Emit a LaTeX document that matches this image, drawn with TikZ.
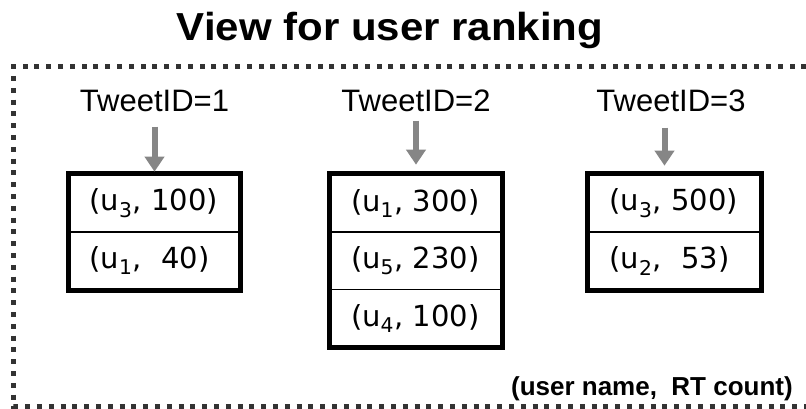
\documentclass[tikz,border=0pt]{standalone}
\usepackage{fontspec}
\setmainfont{Liberation Sans}
\newfontfamily\cellfont{DejaVu Sans}
\usetikzlibrary{arrows.meta}

\tikzset{
  title/.style={font=\fontsize{42}{48}\selectfont\bfseries, anchor=base, inner sep=0pt},
  idlabel/.style={font=\fontsize{31}{34}\selectfont, anchor=base, inner sep=0pt},
  cell/.style={draw=black, line width=1.6pt, minimum height=57.5pt, inner sep=0pt,
               font=\cellfont\fontsize{29}{32}\selectfont, text width=130pt, align=left},
  frame/.style={draw=black, line width=5pt},
  feed/.style={draw=gray!95, line width=6pt, -{Triangle[width=19pt,length=15pt]},
               shorten <=14pt, shorten >=2pt},
  border/.style={draw=black!80, line width=5pt, dash pattern=on 5pt off 6.8pt},
  legend/.style={font=\fontsize{26}{30}\selectfont\bfseries, anchor=base east, inner sep=0pt}
}

\begin{document}
\begin{tikzpicture}[x=1pt, y=-1pt]
  \useasboundingbox (0,0) rectangle (806,409);

  % heading
  \node[title] (head) at (390,41) {\scalebox{1}[0.93]{View for user ranking}};

  % dotted enclosure, open to the right
  \draw[border] (830,66.5) -- (13.5,66.5) -- (13.5,406.5) -- (830,406.5);

  % tweet labels
  \node[idlabel] (t1) at (154.5,112) {TweetID=1};
  \node[idlabel] (t2) at (416,112) {TweetID=2};
  \node[idlabel] (t3) at (671,112) {TweetID=3};

  % tweet 1 list
  \node[cell, minimum width=170pt] (a1) at (154.5,203.25) {(u\textsubscript{3}, 100)};
  \node[cell, minimum width=170pt] (a2) at (154.5,260.75) {(u\textsubscript{1},\ \ 40)};
  \draw[frame] (a1.north west) rectangle (a2.south east);

  % tweet 2 list
  \node[cell, minimum width=171pt] (b1) at (416,203.25) {(u\textsubscript{1}, 300)};
  \node[cell, minimum width=171pt] (b2) at (416,260.75) {(u\textsubscript{5}, 230)};
  \node[cell, minimum width=171pt] (b3) at (416,318.25) {(u\textsubscript{4}, 100)};
  \draw[frame] (b1.north west) rectangle (b3.south east);

  % tweet 3 list
  \node[cell, minimum width=172pt] (c1) at (674.5,203.25) {(u\textsubscript{3}, 500)};
  \node[cell, minimum width=172pt] (c2) at (674.5,260.75) {(u\textsubscript{2},\ \ 53)};
  \draw[frame] (c1.north west) rectangle (c2.south east);

  % label-to-list arrows
  \draw[feed] (a1.north |- t1.south) -- (a1.north);
  \draw[feed, shorten <=8pt, shorten >=9pt] (b1.north |- t2.south) -- (b1.north);
  \draw[feed, shorten <=15pt, shorten >=8pt] ([xshift=-10pt]c1.north |- t3.south) -- ([xshift=-10pt]c1.north);

  % key
  \node[legend] (key) at (793,395) {(user name,\ \ RT count)};
\end{tikzpicture}
\end{document}
